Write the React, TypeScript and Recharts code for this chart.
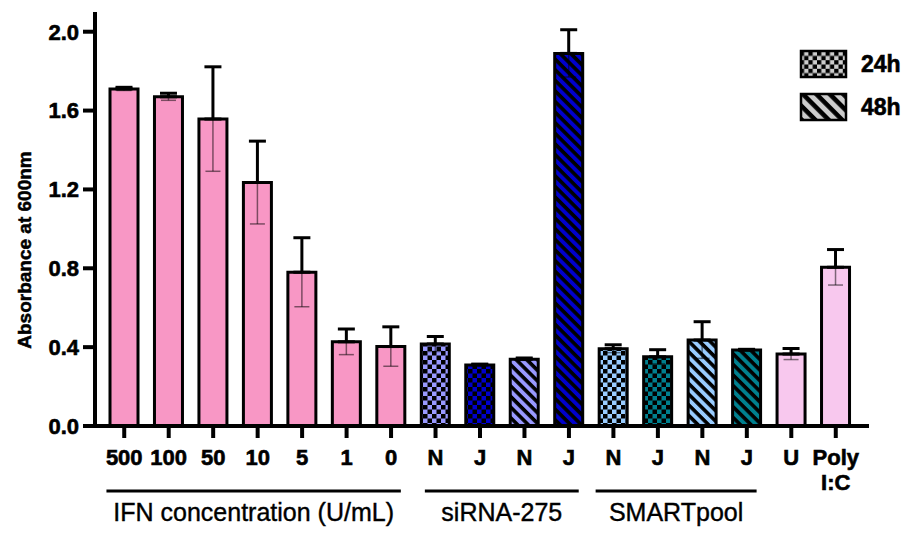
import React from 'react';
import { BarChart, Bar, XAxis, YAxis, ErrorBar, Cell } from 'recharts';

// Values (mean ± error, absorbance at 600nm)
const categories = ['500', '100', '50', '10', '5', '1', '0', 'N', 'J', 'N', 'J', 'N', 'J', 'N', 'J', 'U', 'Poly I:C'];
const means = [1.71, 1.67, 1.557, 1.235, 0.78, 0.427, 0.403, 0.416, 0.31, 0.339, 1.89, 0.392, 0.351, 0.436, 0.385, 0.365, 0.805];
const errors = [0.008, 0.018, 0.265, 0.21, 0.175, 0.065, 0.1, 0.038, 0.004, 0.006, 0.12, 0.02, 0.036, 0.093, 0.004, 0.028, 0.09];
const yTicks = [0, 0.4, 0.8, 1.2, 1.6, 2.0];
const groupLabels = ['IFN concentration (U/mL)', 'siRNA-275', 'SMARTpool'];
const groupRanges = [[0, 6], [7, 10], [11, 14]];
const legendLabels = ['24h', '48h'];

// fill per bar (colour / pattern)
const FILLS = [
  '#F897C5', '#F897C5', '#F897C5', '#F897C5', '#F897C5', '#F897C5', '#F897C5',
  'url(#chk-siN)', 'url(#chk-siJ)', 'url(#str-siN)', 'url(#str-siJ)',
  'url(#chk-smN)', 'url(#chk-smJ)', 'url(#str-smN)', 'url(#str-smJ)',
  '#F8C8EE', '#F8C8EE',
];

// colour, checker cell, stripe period
const PATTERNS: Record<string, [string, number, number]> = {
  siN: ['#9999FF', 4.5, 7.5],
  siJ: ['#0000CC', 4.5, 7.5],
  smN: ['#99CCFF', 4.5, 7.5],
  smJ: ['#00808F', 4.5, 7.5],
  lg: ['#CCCCCC', 4.3, 9.5],
};

const W = 905;
const H = 534;
const X_AXIS_H = 108;
const MARGIN = { top: 12, right: 36, bottom: 0, left: 0 };
const Y_AXIS_W = 95;
const PAD = { left: 7, right: 11 };
const FONT = '"Liberation Sans", Arial, Helvetica, sans-serif';

const plotLeft = MARGIN.left + Y_AXIS_W;
const plotRight = W - MARGIN.right;
const band = (plotRight - plotLeft - PAD.left - PAD.right) / categories.length;
const bandCenter = (i: number) => plotLeft + PAD.left + band * (i + 0.5);

const data = categories.map((c, i) => ({
  key: String(i),
  label: c,
  mean: means[i],
  errUp: [0, errors[i]],
  errDown: [errors[i], 0],
}));

const XTick = (props: any) => {
  const { x, y, payload } = props;
  const lines = categories[Number(payload.value)].split(' ');
  return (
    <text
      textAnchor="middle"
      fontFamily={FONT}
      fontWeight="bold"
      fontSize={22}
      fill="#000"
      stroke="#000"
      strokeWidth={0.6}
    >
      {lines.map((l, k) => (
        <tspan key={k} x={x} y={y + 27 + k * 25}>
          {l}
        </tspan>
      ))}
    </text>
  );
};

const Patterns = () => (
  <svg width={0} height={0} style={{ position: 'absolute' }}>
    <defs>
      {Object.keys(PATTERNS).map((k) => {
        const [color, cell, period] = PATTERNS[k];
        return (
          <React.Fragment key={k}>
            <pattern id={`chk-${k}`} width={cell * 2} height={cell * 2} patternUnits="userSpaceOnUse">
              <rect width={cell * 2} height={cell * 2} fill={color} />
              <rect width={cell} height={cell} fill="#000" />
              <rect x={cell} y={cell} width={cell} height={cell} fill="#000" />
            </pattern>
            <pattern
              id={`str-${k}`}
              width={period}
              height={period}
              patternUnits="userSpaceOnUse"
              patternTransform="rotate(45)"
            >
              <rect width={period} height={period} fill={color} />
              <rect width={period} height={period * 0.48} fill="#000" />
            </pattern>
          </React.Fragment>
        );
      })}
    </defs>
  </svg>
);

const Overlay = () => (
  <svg width={W} height={H} style={{ position: 'absolute', left: 0, top: 0, pointerEvents: 'none' }}>
    {/* y axis title */}
    <text
      transform={`translate(24, 250) rotate(-90)`}
      textAnchor="middle"
      dominantBaseline="central"
      fontFamily={FONT}
      fontWeight="bold"
      fontSize={19}
      stroke="#000"
      strokeWidth={0.5}
    >
      Absorbance at 600nm
    </text>

    {/* group brackets */}
    {groupLabels.map((g, i) => {
      const [a, b] = groupRanges[i];
      const x1 = bandCenter(a) - band * (i === 1 ? 0.24 : 0.4);
      const x2 = bandCenter(b) + band * 0.22;
      return (
        <g key={g}>
          <line x1={x1} x2={x2} y1={491} y2={491} stroke="#000" strokeWidth={3} />
          <text
            x={(x1 + x2) / 2}
            y={521}
            textAnchor="middle"
            fontFamily={FONT}
            fontSize={25}
            stroke="#000"
            strokeWidth={0.4}
          >
            {g}
          </text>
        </g>
      );
    })}

    {/* legend */}
    {legendLabels.map((l, i) => (
      <g key={l}>
        <rect
          x={801}
          y={51 + i * 43}
          width={45}
          height={26}
          fill={i === 0 ? 'url(#chk-lg)' : 'url(#str-lg)'}
          stroke="#000"
          strokeWidth={2.5}
        />
        <text
          x={861}
          y={64 + i * 43}
          dominantBaseline="central"
          fontFamily={FONT}
          fontWeight="bold"
          fontSize={23}
          stroke="#000"
          strokeWidth={0.6}
        >
          {l}
        </text>
      </g>
    ))}
  </svg>
);

export default function App() {
  return (
    <div style={{ position: 'absolute', left: 0, top: 0, width: W, height: H, background: '#fff' }}>
      <Patterns />
      <BarChart width={W} height={H} data={data} margin={MARGIN}>
        <XAxis
          dataKey="key"
          interval={0}
          padding={PAD}
          axisLine={{ stroke: '#000', strokeWidth: 4 }}
          tickLine={{ stroke: '#000', strokeWidth: 4 }}
          tickSize={12}
          tickMargin={0}
          tick={<XTick />}
          height={X_AXIS_H}
        />
        <YAxis
          width={Y_AXIS_W}
          domain={[0, 2.1]}
          ticks={yTicks}
          tickFormatter={(v: number) => v.toFixed(1)}
          axisLine={{ stroke: '#000', strokeWidth: 4 }}
          tickLine={{ stroke: '#000', strokeWidth: 4 }}
          tickSize={12}
          tickMargin={4}
          tick={{ fontFamily: FONT, fontWeight: 'bold', fontSize: 22, fill: '#000', stroke: '#000', strokeWidth: 0.6 }}
          allowDataOverflow
        />
        <Bar dataKey="mean" barSize={28} stroke="#000" strokeWidth={3} isAnimationActive={false}>
          {data.map((d, i) => (
            <Cell key={d.key} fill={FILLS[i]} />
          ))}
          <ErrorBar dataKey="errDown" width={7.5} stroke="#000" strokeOpacity={0.5} strokeWidth={1.5} />
          <ErrorBar dataKey="errUp" width={8.5} stroke="#000" strokeWidth={3} />
        </Bar>
      </BarChart>
      <Overlay />
    </div>
  );
}
